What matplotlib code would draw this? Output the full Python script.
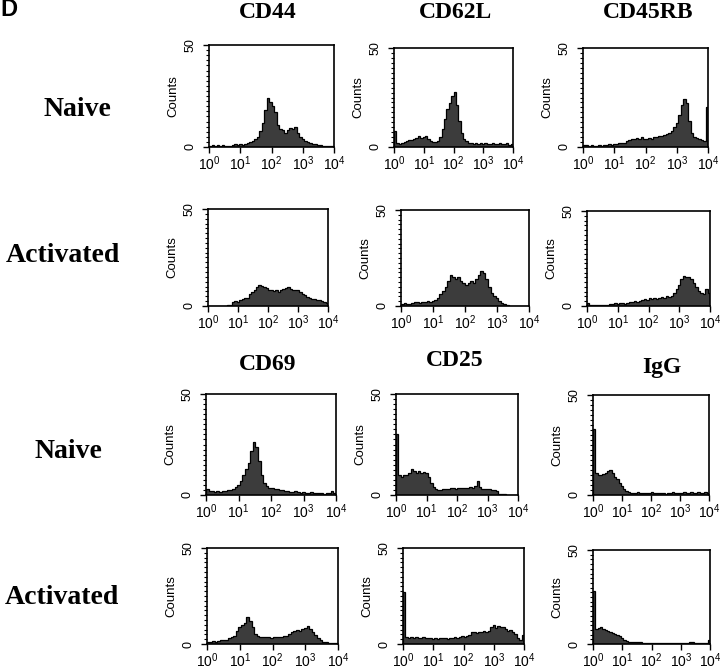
import numpy as np
import matplotlib
matplotlib.use("Agg")
import matplotlib.pyplot as plt
from matplotlib.ticker import FixedLocator, LogLocator, NullFormatter

plt.rcParams['font.family'] = ['Liberation Sans', 'DejaVu Sans']
plt.rcParams['mathtext.fontset'] = 'custom'
plt.rcParams['mathtext.rm'] = 'Liberation Sans'
plt.rcParams['mathtext.it'] = 'Liberation Sans:italic'

# ---------------- data: counts per log-channel bin (50 bins, 10^0 .. 10^4) ----------------
markers_top = ["CD44", "CD62L", "CD45RB"]
markers_bottom = ["CD69", "CD25", "IgG"]
row_labels = ["Naive", "Activated", "Naive", "Activated"]
x_tick_labels = ["$10^{0}$", "$10^{1}$", "$10^{2}$", "$10^{3}$", "$10^{4}$"]

cd44_naive = [0.5, 1, 0.5, 1, 0.5, 1, 0.5, 0.5, 0.5, 1, 1.5, 1, 1.5, 1, 1.5, 2, 2.5, 3, 4, 5,
              8, 12, 18, 24, 22, 20, 17, 11, 9, 8.5, 7, 8.5, 9.5, 9, 10, 7, 5, 4, 3, 2.5,
              2, 1.5, 1.5, 1, 1, 0.5, 0.5, 0.5, 0.5, 0.5]
cd62l_naive = [8, 2, 1.5, 2, 2.5, 3, 3.5, 3.5, 4, 4.5, 5.5, 4.5, 5, 5.5, 4, 3, 2.5, 2.5, 3, 5,
               9, 14, 19, 22, 26, 28, 21, 13, 7, 4, 3, 2, 2, 1.5, 2, 1.5, 2, 1.5, 2, 1.5,
               1.5, 2, 1.5, 1.5, 2, 1.5, 1.5, 2, 1, 1.5]
cd45rb_naive = [1, 1, 0.5, 1, 0.5, 0.5, 1, 0.5, 1, 1, 1.5, 1, 1.5, 1.5, 2, 2, 2, 3, 3.5, 4,
                4, 4.5, 4, 5, 4, 4, 4.5, 4, 5, 5, 5.5, 5.5, 6, 6.5, 7, 8, 10, 12, 16, 21,
                24, 22, 13, 7, 5, 4.5, 4, 3.5, 3, 20]
cd44_act = [0, 0, 0, 0, 0, 0, 0, 0, 0.3, 0.5, 2, 2.5, 2, 3, 3.5, 4, 4, 6, 7, 8,
            10, 11, 10.5, 10, 9.5, 8.5, 8, 7.5, 8, 7, 8, 9, 9.5, 10, 9, 8.5, 8, 8.5, 7, 6,
            5.5, 4.5, 4, 3.5, 3.5, 3, 3, 2.5, 2, 1.5]
cd62l_act = [1, 1.5, 1, 1, 1.5, 2, 2, 1.5, 2, 2, 2.5, 2, 2.5, 3, 4, 6, 8, 10, 13, 16,
             15, 14, 15, 13, 12, 11, 12, 13, 12, 14, 16, 18, 17, 14, 10, 7, 5, 4, 2.5, 1.5,
             1, 0.5, 0, 0, 0, 0, 0, 0, 0, 0]
cd45rb_act = [1.5, 0.5, 0.3, 0.3, 0.3, 0.3, 0.3, 0.3, 0.5, 0.8, 1, 1.5, 1, 1.5, 1.5, 1, 1.5, 2, 2, 2.5,
              2, 2.5, 3, 3.5, 3, 4, 3.5, 4, 3.5, 4, 4.5, 4, 5, 4.5, 5.5, 7, 9, 11, 14, 16,
              15.5, 15, 14, 12, 10, 8, 7, 6.5, 9, 7]
cd69_naive = [3, 2, 2, 1.5, 2, 1.5, 2, 2, 2.5, 2.5, 3, 4, 5, 7, 10, 13, 16, 22, 26, 24,
              17, 10, 6, 4.5, 3.5, 3.5, 3, 3, 2.5, 2.5, 2, 2, 1.5, 1.5, 2, 1.5, 1, 1.5, 1, 1,
              1.5, 1, 1, 1, 1, 0.5, 1, 1, 2, 1]
cd25_naive = [30, 10, 9, 10, 10, 11, 13, 12, 11, 12, 11, 11.5, 11, 9, 6, 4, 3, 2.5, 2.5, 3,
              3, 3, 3.5, 3.5, 3, 3.5, 3.5, 3.5, 3.5, 3.5, 4, 3.5, 4.5, 7, 4, 3, 3, 3, 3, 2.5,
              2.5, 2, 0.5, 0.5, 0.3, 0, 0, 0, 0, 0]
igg_naive = [33, 11, 10, 10, 10.5, 11, 12, 12.5, 11, 9, 8, 6, 4.5, 3, 2, 1.5, 1, 1, 1, 1.5,
             1, 1, 1, 1, 1, 1.5, 1, 1, 1, 1, 1, 0.5, 1, 1, 1.5, 1, 1, 1, 1, 1.5,
             1, 1, 1.5, 1, 1, 1.5, 1, 1, 1.5, 1]
cd69_act = [1, 1, 1.5, 1, 1.5, 2, 2, 2, 3, 3.5, 4, 7, 9, 10, 11, 14, 12, 9, 5, 4,
            3.5, 3.5, 3.5, 3.5, 3, 3.5, 3.5, 3.5, 3.5, 4, 4, 5, 6, 7, 7.5, 7, 8, 8.5, 9.5, 8,
            6, 4.5, 3, 2, 1, 1, 0.5, 0.5, 0.5, 0.5]
cd25_act = [27, 3.5, 3, 3.5, 3, 3.5, 3, 3, 3.5, 3, 3, 3, 2.5, 3, 2.5, 3, 3, 3, 2.5, 3,
            3, 3.5, 3, 3.5, 4, 3.5, 4, 4.5, 6, 6, 5.5, 6.5, 6, 7, 6.5, 7, 9, 10, 8.5, 9.5,
            9, 9, 8, 7, 7.5, 6, 5, 3, 2, 4.5]
igg_act = [28, 8, 8.5, 9, 8, 7.5, 7, 6.5, 6, 5.5, 5, 4, 3, 2, 1.5, 1.2, 1, 1, 1, 1,
           0.8, 0.5, 0.5, 0.5, 0.5, 0.5, 0.5, 0.5, 0.5, 0.5, 0.5, 0.5, 0.5, 0.5, 0.5, 0.5, 0.5, 0.5, 0.5, 0.5,
           0.5, 0.8, 1, 0.5, 0.5, 0.5, 0.5, 0.5, 0.5, 2]

grid_data = [
    [cd44_naive, cd62l_naive, cd45rb_naive],
    [cd44_act, cd62l_act, cd45rb_act],
    [cd69_naive, cd25_naive, igg_naive],
    [cd69_act, cd25_act, igg_act],
]

# ---------------- layout (pixel boxes: left, right, top, bottom) ----------------
W, H = 720, 670
boxes = [
    [(209, 334, 45, 147), (394, 513, 48, 147), (583, 708, 48, 147)],
    [(208, 328, 209, 306), (401, 529, 210, 306), (587, 710, 211, 306)],
    [(206, 336, 394, 495), (396, 518, 394, 495), (593, 709, 395, 495)],
    [(207, 338, 548, 644), (403, 524, 548, 644), (593, 710, 550, 644)],
]

fig = plt.figure(figsize=(W / 100, H / 100), dpi=100)
edges = np.logspace(0, 4, 51)

for r in range(4):
    for c in range(3):
        l, rr, t, b = boxes[r][c]
        ax = fig.add_axes([l / W, 1 - b / H, (rr - l) / W, (b - t) / H])
        ax.stairs(grid_data[r][c], edges, fill=True, facecolor='#3c3c3c',
                  edgecolor='none')
        ax.stairs(grid_data[r][c], edges, fill=False, color='black', lw=0.9)
        ax.set_xscale('log')
        ax.set_xlim(1, 1e4)
        ax.set_ylim(0, 50)
        ax.xaxis.set_major_locator(FixedLocator([1, 10, 100, 1000, 10000]))
        ax.set_xticklabels(x_tick_labels)
        ax.xaxis.set_minor_locator(LogLocator(base=10, subs=np.arange(2, 10)))
        ax.xaxis.set_minor_formatter(NullFormatter())
        ax.set_yticks([0, 50])
        ax.set_yticks(np.arange(2.5, 50, 2.5), minor=True)
        ax.tick_params(axis='both', which='major', direction='out', length=4,
                       width=1.0, labelsize=10, pad=1.5)
        ax.tick_params(axis='both', which='minor', direction='out', length=2.5,
                       width=0.8)
        ax.tick_params(axis='y', labelsize=9, pad=5)
        for lab in ax.get_yticklabels():
            lab.set_rotation(90)
            lab.set_va('center')
        ax.set_ylabel("Counts", fontsize=9.5, labelpad=4)
        for s in ax.spines.values():
            s.set_linewidth(1.2)

# column titles
title_font = dict(family=['Liberation Serif', 'DejaVu Serif'], fontweight='bold', fontsize=17)
top_title_pos = [(268, 13), (455, 13), (648, 13)]
bot_title_pos = [(268, 365), (455, 360), (662, 367)]
for name, (x, y) in zip(markers_top, top_title_pos):
    fig.text(x / W, 1 - y / H, name, ha='center', va='center', **title_font)
for name, (x, y) in zip(markers_bottom, bot_title_pos):
    fig.text(x / W, 1 - y / H, name, ha='center', va='center', **title_font)

# row labels
row_pos = [(77, 110), (63, 256), (68, 451), (62, 597)]
for name, (x, y) in zip(row_labels, row_pos):
    fig.text(x / W, 1 - y / H, name, ha='center', va='center',
             family=['Liberation Serif', 'DejaVu Serif'], fontweight='bold', fontsize=20)

fig.text(0 / W, 1 - 10 / H, "D", ha='left', va='center', fontweight='bold', fontsize=17)

fig.savefig("out.png", dpi=100)
